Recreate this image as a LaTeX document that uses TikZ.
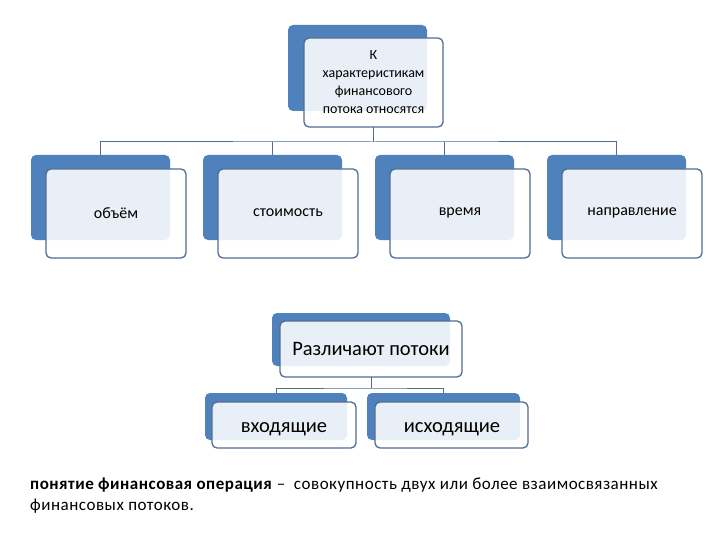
\documentclass[tikz,border=0pt]{standalone}
\usepackage{fontspec}
\setmainfont{Carlito}
\definecolor{backblue}{RGB}{79,129,189}
\definecolor{edgeblue}{RGB}{80,110,145}
\definecolor{linegray}{RGB}{80,110,145}
\begin{document}
\begin{tikzpicture}[x=1pt,y=-1pt,
  back/.style={fill=backblue,rounded corners=5pt},
  front/.style={draw=edgeblue,line width=1.3pt,fill=white,fill opacity=0.88,text opacity=1,rounded corners=5pt},
  conn/.style={draw=linegray,line width=1pt}]
\useasboundingbox (0,0) rectangle (720,540);
\fill[white] (0,0) rectangle (720,540);
% top
\fill[back] (288,25) rectangle (427,111);
\draw[front] (304,38) rectangle (443,127);
\node[align=center,font=\fontsize{14}{18}\selectfont] (top) at (373.5,82.5) {К\\характеристикам\\финансового\\потока относятся};
\coordinate (topb) at (373.5,127);
% level 1
\foreach \i/\x/\t in {a/31/объём,b/203/стоимость,c/375/время,d/547/направление}{
  \fill[back] (\x,155) rectangle ++(139,85);
  \draw[front] (\x+15,169) rectangle ++(140,89);
  \node[font=\fontsize{16}{18}\selectfont] (\i) at (\x+85,213) {\t};
  \coordinate (\i t) at (\x+69.5,155);
}
\coordinate (hl) at (100.5,142);
\draw[conn] (topb) -- (373.5,142);
\draw[conn] (at) |- (373.5,142) -| (dt);
\draw[conn] (bt) -- (bt |- hl);
\draw[conn] (ct) -- (ct |- hl);
% second group
\fill[back] (272,313) rectangle (450,366);
\draw[front] (280,321) rectangle (462,377);
\node[font=\fontsize{20.5}{22}\selectfont] (diff) at (371,349) {Различают потоки};
\coordinate (diffb) at (371,377);
\fill[back] (205,393) rectangle (347,440);
\draw[front] (212,402) rectangle (356,448);
\node[font=\fontsize{20.5}{22}\selectfont] (in) at (284,429) {входящие};
\fill[back] (367,393) rectangle (520,440);
\draw[front] (375,402) rectangle (528,448);
\node[font=\fontsize{20.5}{22}\selectfont] (out) at (452,429) {исходящие};
\coordinate (int) at (276,393);
\coordinate (outt) at (443,393);
\draw[conn] (diffb) -- (371,388);
\draw[conn] (int) |- (371,388) -| (outt);
% bottom text
\node[anchor=north west,align=left,inner sep=0pt,font=\fontsize{17}{21}\selectfont\addfontfeatures{LetterSpace=3}] (txt) at (30,478)
 {\textbf{понятие финансовая операция} –\ \ совокупность двух или более взаимосвязанных\\финансовых потоков.};
\end{tikzpicture}
\end{document}
